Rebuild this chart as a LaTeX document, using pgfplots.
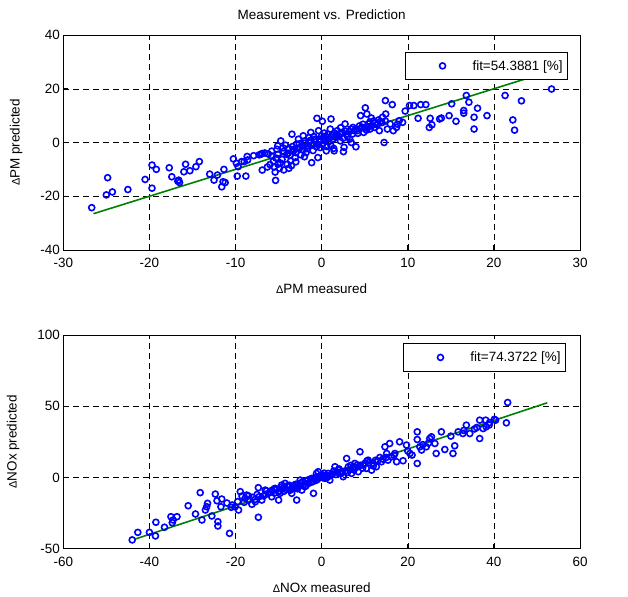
\documentclass[border=0pt]{standalone}
\usepackage{pgfplots}
\pgfplotsset{compat=1.18}
\usepackage{pgfplotstable}
\usepackage{fontspec}
\setmainfont{Liberation Sans}
\newcommand\ff{\fontsize{13.5}{16}\selectfont}
\newcommand\dd{{\fontsize{11}{12}\selectfont Δ}}
\definecolor{mgreen}{rgb}{0,0.5,0}

\pgfplotstableread{
x y
-26.7 -24.25
-24.85 -13.1
-25.0 -19.5
-24.3 -18.4
-22.5 -17.5
-20.5 -13.75
-19.7 -8.4
-19.2 -10
-19.7 -17
-17.7 -9.4
-17.4 -12.75
-16.6 -14
-16.5 -14.9
-16.7 -14.4
-16.0 -10.9
-15.8 -8.1
-15.3 -10.5
-14.6 -9
-14.2 -7.1
-13.0 -11.75
-12.5 -14
-12.1 -12.1
-11.6 -16.5
-11.45 -14.6
-11.35 -10
-11.2 -14.9
-10.25 -6.1
-9.9 -7.75
-9.7 -9
-9.8 -12.5
-9.3 -7.1
-9.0 -7.1
-8.6 -6.5
-8.8 -12.5
-8.65 -5.2
-7.25 -4.6
-7.07 -4.4
-6.9 -4.1
-6.9 -10.25
-6.3 -9.1
-5.8 -5.0
-5.5 -9.1
-5.4 -11
-5.35 -14.1
-5.07 -8.1
-4.9 -9.6
-5.1 -4.4
-5.2 -2.5
-4.75 0.6
-5.1 -1.25
-4.05 -4.4
-4.0 -8.1
-3.8 -9.6
-3.6 -6.9
-3.45 3.1
-3.25 -3.1
-3.07 -5.6
-2.9 -0.6
-2.7 1.25
-2.5 -1.9
-2.14 2.5
-1.95 0.6
-1.8 -3.75
-1.63 -1.25
-1.45 1.9
-1.16 -7.5
-1.26 3.75
-0.9 -0.6
-0.73 1.25
-0.54 9.0
-0.44 -5.6
-0.36 4.4
-0.18 -1.9
0 2.5
0.08 7.9
0.36 0.6
0.54 -3.1
0.73 3.1
1.09 8.75
1.09 -1.25
1.45 -3.1
1.63 1.9
1.81 4.4
2.17 0.6
2.53 -3.4
2.72 6.9
2.88 3.1
3.26 1.25
3.44 0
3.63 5.6
3.98 -1.6
4.16 4.4
4.52 10
4.71 5.6
4.88 3.75
5.07 12.9
5.25 10.6
5.43 6.9
5.61 5.0
5.77 9.1
6.14 5.6
6.51 6.9
6.7 4.4
7.07 9.4
7.25 0
7.44 10.6
7.63 5.0
7.96 6.9
8.32 4.4
8.69 5.6
9.0 8.1
9.4 7.5
8.8 6.8
9.7 11.7
-4.5 -2.0
-4.2 -1.0
-3.8 -2.2
-3.4 -1.5
-3.0 -3.8
-2.6 -0.5
-2.2 -2.8
-1.9 -0.2
-1.5 0.3
-1.2 -1.0
-0.8 0.8
-0.5 -0.6
-0.2 1.2
0.2 1.8
0.5 2.2
0.9 1.5
1.2 2.8
1.5 3.5
2.0 2.2
2.4 3.8
2.8 4.2
3.2 4.0
3.6 3.2
4.0 5.0
4.4 6.2
4.8 6.8
5.2 4.6
5.6 7.6
6.0 8.0
6.4 6.6
6.8 7.8
2.2 5.5
1.0 5.0
0.3 3.5
-0.9 2.2
-2.4 -4.6
-3.7 -4.8
-2.0 -5.3
-1.0 -3.0
0.6 -1.5
-6.6 -3.9
-6.2 -4.3
-7.9 -4.9
-4.6 -6.3
-4.8 -7.6
1.4 -2.2
2.6 -1.8
-5.8 -3.2
-5.3 -5.8
-4.4 -3.3
-3.9 -4.0
-3.3 -2.6
-2.8 -2.2
-2.3 -1.2
-1.7 -2.3
-1.3 0.8
-0.6 -1.6
-0.3 0.2
0.1 -0.8
0.4 1.0
0.8 0.2
1.3 1.2
1.7 2.8
2.1 3.2
2.5 1.6
3.0 2.2
3.4 5.0
3.8 4.4
4.2 3.4
4.6 5.4
5.0 5.6
5.4 5.8
5.8 6.2
6.2 7.2
6.6 8.4
7.0 7.4
7.4 8.0
-6.0 -8.2
-5.6 -7.0
-4.4 -10.2
-3.5 -8.6
-3.0 -7.2
7.4 15.6
8.2 14.1
10.2 13.75
10.7 13.75
11.5 14.1
12.1 14.1
11.2 9.0
12.6 9.0
12.5 5.6
12.8 6.6
13.7 8.75
13.9 9.1
14.8 10
15.1 14.4
15.6 7.9
16.5 11.9
16.5 10.9
16.8 17.5
17.1 15
17.7 9.4
17.7 5.0
18.1 12.75
19.2 10
21.3 17.5
23.2 15.5
22.2 8.4
22.4 4.6
26.7 19.9
}\pmdata

\pgfplotstableread{
x y
-44.0 -43.9
-42.7 -38.6
-40.0 -38.6
-38.6 -41.1
-38.5 -31.5
-36.5 -35
-35.0 -27.6
-34.5 -29.9
-33.6 -27.6
-34.7 -31.8
-31.0 -19.9
-29.3 -25.7
-28.2 -10.7
-27.8 -29.9
-27.0 -22.9
-26.5 -18.2
-26.7 -20.6
-25.5 -27.1
-24.7 -11.7
-24.3 -16.4
-23.2 -15.2
-24.1 -31.1
-24.1 -34.1
-23.4 -20.6
-21.4 -39.3
-20.8 -19.4
-20.1 -20.6
-19.3 -22.9
-18.9 -10
-18.5 -13.1
-17.8 -14.7
-17.4 -12.4
-16.2 -18.9
-15.4 -17.1
-14.7 -7.2
-14.7 -28
-13.9 -15.9
-13.1 -8.9
-12.4 -11.2
-11.6 -13.6
-10.8 -7.7
-10.0 -15.9
-9.7 -11.2
-9.3 -5.4
-8.5 -4.2
-7.7 -6.5
-6.95 -11.2
-6.2 -7.7
-5.8 -15.9
-5.0 -1.9
-4.6 -8.9
-3.9 -6.5
-3.1 -4.2
-2.3 -0.7
-1.9 -11.2
-1.2 2.8
-0.8 4.0
0 0.5
0.8 -0.7
1.5 2.8
1.9 -1.9
3.1 7.5
3.9 5.1
4.6 2.8
5.0 0.5
5.8 13.3
6.2 7.5
6.95 2.8
7.7 9.8
8.5 4.0
8.9 18.0
9.65 8.6
10.4 6.3
10.8 12.1
11.6 5.1
12.0 9.8
12.7 7.5
13.9 11.0
14.7 21.5
15.1 16.8
15.4 12.1
15.8 23.8
16.2 14.5
17.0 16.8
17.4 11.0
18.1 25.0
18.9 11.7
19.7 22.7
20.5 16.8
21.0 15.7
22.2 32.0
22.2 26.6
22.2 9.8
22.8 21.5
23.2 19.2
24.3 21.5
25.1 27.3
25.5 28.5
26.3 23.8
26.6 16.8
27.8 32.0
28.6 19.6
30.5 16.8
30.9 22.2
31.7 32.0
32.8 30.8
33.6 36.7
34.4 30.8
36.7 40.2
36.7 27.3
37.5 34.3
38.2 35.5
38.1 40.2
40.4 40.2
42.9 38.3
43.2 52.6
-22 -18
-21 -21
-19.5 -17
-18 -17.5
-17 -16
-16 -14
-15 -12
-14.5 -13.5
-13 -12
-12 -10.5
-11.5 -9
-11 -11
-10.5 -8.5
-9.8 -9.5
-9 -7.8
-8.2 -8.6
-7.5 -5.5
-7 -8
-6.5 -6.2
-6 -4.8
-5.5 -6.5
-4.8 -3.8
-4.2 -5.2
-3.5 -2.5
-3 -4
-2.6 -1.2
-2 -2.8
-1.6 -0.2
-1 -1.5
-0.5 0.8
0.3 -0.3
1 1.2
1.8 0.9
2.5 2.4
3.5 3.8
4.2 3.2
5.5 4.6
6.5 5.5
7.2 6.8
8 7
9 8.5
10 9.8
11 10.5
12.5 12
13.5 14
14.2 12.8
16.8 15.5
20 18.5
23.5 23
24.8 24
30 29
33 33
35.5 34
36 35
39 38.5
38.9 36.8
40.1 40.8
-17 -13
-15.5 -15.5
-13.5 -13
-12.8 -9.5
-11 -8
-10 -10
-9.5 -7
-8.8 -9.8
-8 -6
-7.3 -9
-6.8 -6.5
-6.2 -5.2
-5.6 -8
-4.8 -5.6
-4.4 -3
-3.6 -5.8
-3.2 -1.8
-2.4 -3.4
-1.8 -0.8
-1.4 -2.2
-0.6 -0.2
0.2 1.8
0.6 3
1.2 -0.2
2.2 1.8
2.8 4.5
3.3 2
4 6
4.8 4.2
6 3.5
6.8 8.5
7.5 5.2
8.3 8.8
9.5 6.5
10.5 11.5
12 8
13 11.6
15 14
}\noxdata

\pgfplotsset{
  mstyle/.style={
    width=516.7bp, scale only axis,
    tick align=inside, xtick pos=bottom, ytick pos=left,
    major tick length=5bp,
    grid=major,
    major grid style={black, line width=0.5bp, dash pattern=on 6bp off 4bp},
    axis line style={black, line width=0.9bp},
    tick style={black, line width=0.9bp},
    /pgf/number format/assume math mode=true,
    tick label style={font=\ff},
    xticklabel style={yshift=-5bp},
    label style={font=\ff},
    xlabel style={yshift=-9bp},
    ylabel style={yshift=11bp},
    title style={font=\ff, yshift=6bp},
    legend style={font=\ff, draw=black, line width=1bp, inner xsep=3bp, inner ysep=6bp, anchor=north east, cells={anchor=west}},
  },
  scat/.style={only marks, mark=o, mark size=3bp, blue, mark options={line width=1.6bp},
    legend image code/.code={\path[draw=none] (0bp,0bp) -- (62bp,0bp); \path[draw=none] plot[mark=o, mark size=3bp, mark options={draw=blue, line width=1.6bp}] coordinates {(34bp,0bp)};}},
}

\begin{document}
\begin{tikzpicture}
\useasboundingbox (0bp,0bp) rectangle (628bp,597bp);
\begin{axis}[mstyle, height=215bp, at={(63.3bp,347bp)}, anchor=south west,
  xmin=-30, xmax=30, ymin=-40, ymax=40,
  xtick={-30,-20,...,30}, ytick={-40,-20,0,20,40},
  title={Measurement vs. Prediction},
  xlabel={\dd PM measured}, ylabel={\dd PM predicted},
  legend style={at={(0.977,0.922)}}]
\addplot[scat] table[x=x,y=y] {\pmdata};
\addlegendentry{fit=54.3881 [\%]}
\addplot[mgreen, line width=1.6bp, forget plot] coordinates {(-26.5,-26.5) (26.7,26.7)};
\end{axis}
\begin{axis}[mstyle, height=213.6bp, at={(63.3bp,48.4bp)}, anchor=south west,
  xmin=-60, xmax=60, ymin=-50, ymax=100,
  xtick={-60,-40,...,60}, ytick={-50,0,50,100},
  xlabel={\dd NOx measured}, ylabel={\dd NOx predicted},
  legend style={at={(0.973,0.961)}}]
\addplot[scat] table[x=x,y=y] {\noxdata};
\addlegendentry{fit=74.3722 [\%]}
\addplot[mgreen, line width=1.6bp, forget plot] coordinates {(-43.3,-43.3) (52.4,52.4)};
\end{axis}
\end{tikzpicture}
\end{document}
